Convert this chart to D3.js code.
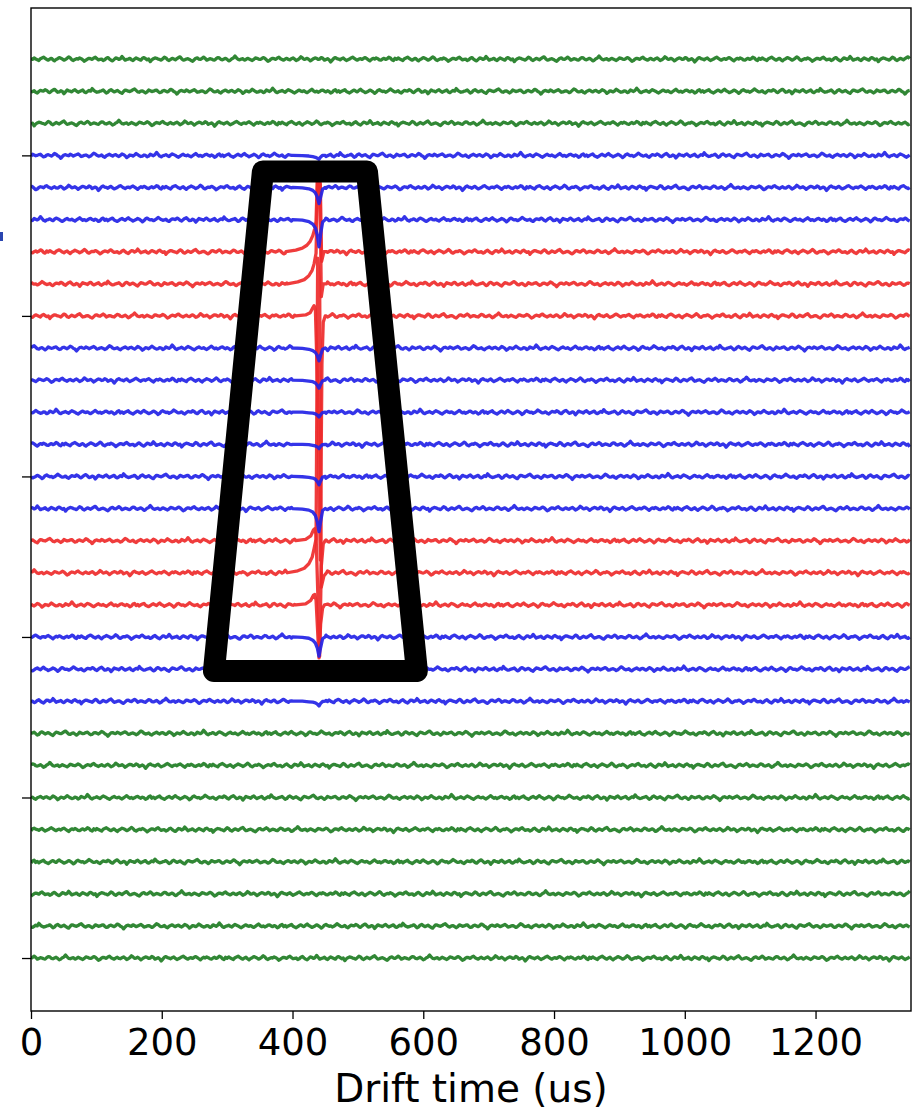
<!DOCTYPE html>
<html>
<head>
<meta charset="utf-8">
<script src="https://cdn.jsdelivr.net/npm/d3@7"></script>
<style>
  body { margin: 0; background: #fff; }
  text { font-family: "DejaVu Sans", sans-serif; }
</style>
</head>
<body>
<svg id="chart"></svg>
<script>
// waveforms per channel, drift time in us

var width = 912,
    height = 1113
var margin = {top: 8, right: 1, bottom: 102, left: 31}

// channel colours, top to bottom (g = far, b = induction, r = collection)
const channelKinds = ["g","g","g","b","b","b","r","r","r","b","b","b","b","b","b",
                      "r","r","r","b","b","b","g","g","g","g","g","g","g","g"]
const kindColor = {g: "#1f7d24", b: "#2323e6", r: "#ee2b2b"}

const xTicks = [0, 200, 400, 600, 800, 1000, 1200]
const yTicks = [3, 8, 13, 18, 23, 28]

// baseline noise, in hundredths of a channel step
const noise = [
  2,-1,3,0,-2,-4,1,3,5,2,-1,-3,0,2,-2,-5,-1,1,4,2,
  0,-3,-1,2,6,3,-2,-4,-1,1,0,3,1,-2,-6,-3,0,2,1,-1,
  3,5,1,-2,-1,0,-4,-2,2,4,0,-3,-5,-1,3,2,-1,1,7,2,
  -3,-1,0,2,-2,-4,0,3,1,-1,-3,2,4,1,-2,0,-7,-2,1,3,
  2,0,-1,-3,1,5,3,-2,-4,-1,2,0,-2,1,4,6,1,-3,-2,0,
  1,-1,-4,-6,-2,2,3,0,-1,2,5,2,-3,-1,1,0,-2,-3,1,4,
  3,-1,-2,0,2,-1,-5,-3,1,3,8,3,-1,-2,0,1,-3,-1,2,0,
  -2,-4,-1,3,2,0,-1,1,4,2,-2,-6,-4,0,2,1,-1,3,5,1,
  -1,-3,0,2,-1,-2,1,3,0,-4,-2,1,6,3,-1,0,2,-1,-5,-2,
  1,3,2,-1,0,4,2,-3,-1,1,-2,-8,-3,2,4,1,0,-2,1,3,
  -1,-4,-2,0,3,5,2,-1,-3,0,1,-1,2,4,1,-2,-5,-1,2,0,
  3,1,-2,-3,0,2,-1,1,5,3,-2,-4
]
const sampleStep = 2.4   // us between samples
const noiseUnit = 0.0115 // channel steps per noise count
const tMax = 1346

// induction pulses (blue channels): shared times, values per channel
const bluePulseTimes = [400, 415, 425, 431, 435, 438, 440.5, 443, 446, 450]
const bluePulses = {
  3:  [0,-0.01,-0.02,-0.04,-0.06,-0.09,-0.12,-0.05,0,0],
  4:  [0,-0.01,-0.04,-0.09,-0.17,-0.30,-0.50,-0.30,-0.05,0],
  5:  [0,-0.02,-0.06,-0.14,-0.26,-0.48,-0.85,-0.45,-0.08,0],
  9:  [0,-0.01,-0.04,-0.08,-0.14,-0.24,-0.40,-0.22,-0.04,0],
  10: [0,-0.01,-0.03,-0.05,-0.09,-0.16,-0.25,-0.13,-0.02,0],
  11: [0,0,-0.02,-0.03,-0.05,-0.09,-0.15,-0.08,-0.01,0],
  12: [0,0,-0.01,-0.03,-0.05,-0.08,-0.13,-0.06,-0.01,0],
  13: [0,-0.01,-0.03,-0.05,-0.09,-0.16,-0.26,-0.14,-0.02,0],
  14: [0,-0.02,-0.05,-0.11,-0.22,-0.42,-0.72,-0.40,-0.06,0],
  18: [0,-0.01,-0.04,-0.10,-0.19,-0.35,-0.60,-0.33,-0.05,0],
  19: [0,-0.01,-0.03,-0.06,-0.11,-0.19,-0.30,-0.15,-0.03,0],
  20: [0,0,-0.02,-0.03,-0.05,-0.09,-0.15,-0.07,-0.01,0]
}

// collection pulses (red channels)
const redPulseTimes = {
  6:  [390,405,415,422,427,431,434,436,438,442.5,444.5,448,452],
  7:  [392,408,418,425,430,433,436,438.5,442,444,447,452],
  8:  [405,420,427,431,433,435,438,442.5,445,447,450],
  15: [405,420,428,432,434,436,441.5,444,447,450],
  16: [392,408,418,425,430,433,436,438.5,441.5,444,448,452],
  17: [405,420,428,432,434,436,440.5,443,446,449]
}
const redPulses = {
  6:  [0,0.05,0.11,0.20,0.32,0.50,0.72,0.95,2.3,2.1,-0.3,0,0],
  7:  [0,0.06,0.13,0.25,0.42,0.62,0.95,3.4,3.2,-0.4,0,0],
  8:  [0,0.03,0.10,0.25,0.32,0.20,-2.0,-7.6,-1.5,-0.2,0],
  15: [0,0.04,0.15,0.33,0.37,0.20,-3.6,-0.8,-0.1,0],
  16: [0,0.06,0.14,0.28,0.48,0.75,1.05,9.8,9.0,-0.45,-0.1,0],
  17: [0,0.03,0.14,0.30,0.32,0.15,-1.65,-0.6,-0.1,0]
}

// hand-drawn trapezoid round the signal (drift time, channel)
const trapTimes = [354.7, 513.8, 590.2, 279.8]
const trapChannels = [3.5, 3.5, 19.06, 19.06]

const svg = d3.select("#chart")
  .attr("width", width)
  .attr("height", height)

const x = d3.scaleLinear().domain([0, tMax]).range([margin.left, width - margin.right])
const y = d3.scaleLinear().domain([-1.59, 29.65]).range([margin.top, height - margin.bottom])

svg.append("clipPath").attr("id", "plotclip")
  .append("rect")
  .attr("x", x(0)).attr("y", y(-1.59))
  .attr("width", x(tMax) - x(0)).attr("height", y(29.65) - y(-1.59))

// build one trace: noise samples outside the pulse window, pulse points inside
function buildTrace (ch) {
  var times = null, vals = null
  if (bluePulses[ch]) { times = bluePulseTimes; vals = bluePulses[ch] }
  if (redPulses[ch]) { times = redPulseTimes[ch]; vals = redPulses[ch] }
  var pts = []
  var sign = ch % 2 ? -1 : 1
  var k = 0
  for (var t = 0; t <= tMax; t += sampleStep, k++) {
    if (times && t > times[0] && t < times[times.length - 1]) continue
    var n = noise[(k + ch * 37) % noise.length] * sign * noiseUnit
    pts.push([t, ch - n])
  }
  if (times) {
    times.forEach((tt, i) => pts.push([tt, ch - vals[i]]))
    pts.sort((a, b) => a[0] - b[0])
  }
  return pts
}

const traces = channelKinds.map((kind, ch) => ({ch: ch, kind: kind, pts: buildTrace(ch)}))

const line = d3.line().x(d => x(d[0])).y(d => y(d[1]))

// red first, then blue, then green (blue dips sit on top of the red spikes)
const order = {r: 0, b: 1, g: 2}
traces.sort((a, b) => order[a.kind] - order[b.kind] || a.ch - b.ch)

svg.append("g")
  .attr("clip-path", "url(#plotclip)")
  .selectAll("path")
  .data(traces)
  .join("path")
    .attr("d", d => line(d.pts))
    .attr("fill", "none")
    .attr("stroke", d => kindColor[d.kind])
    .attr("stroke-opacity", 0.92)
    .attr("stroke-width", 3.3)
    .attr("stroke-linejoin", "round")

// axes
const xAxis = svg.append("g")
  .attr("transform", `translate(0,${y(29.65)})`)
  .call(d3.axisBottom(x).tickValues(xTicks).tickFormat(d3.format("d")).tickSize(8).tickPadding(10))
xAxis.select(".domain").remove()
xAxis.selectAll(".tick line").attr("stroke", "#000").attr("stroke-width", 1.3)
xAxis.selectAll(".tick text")
  .attr("font-size", 37)
  .attr("font-family", "DejaVu Sans")
  .attr("fill", "#000")

const yAxis = svg.append("g")
  .attr("transform", `translate(${x(0)},0)`)
  .call(d3.axisLeft(y).tickValues(yTicks).tickSize(9).tickFormat(""))
yAxis.select(".domain").remove()
yAxis.selectAll(".tick line").attr("stroke", "#000").attr("stroke-width", 1.3)

// frame
svg.append("rect")
  .attr("x", x(0)).attr("y", y(-1.59))
  .attr("width", x(tMax) - x(0)).attr("height", y(29.65) - y(-1.59))
  .attr("fill", "none")
  .attr("stroke", "#000")
  .attr("stroke-width", 1.4)

svg.append("text")
  .attr("x", (x(0) + x(tMax)) / 2)
  .attr("y", 1102)
  .attr("text-anchor", "middle")
  .attr("font-size", 39)
  .attr("fill", "#000")
  .text("Drift time (us)")

// clipped-off label stub at the left edge
svg.append("rect")
  .attr("x", 0).attr("y", 232)
  .attr("width", 3).attr("height", 9)
  .attr("fill", "#2a45b0")

// trapezoid annotation
const trap = trapTimes.map((t, i) => [t, trapChannels[i]])
svg.append("path")
  .attr("d", line(trap) + "Z")
  .attr("fill", "none")
  .attr("stroke", "#000")
  .attr("stroke-width", 22)
  .attr("stroke-linejoin", "round")
</script>
</body>
</html>
